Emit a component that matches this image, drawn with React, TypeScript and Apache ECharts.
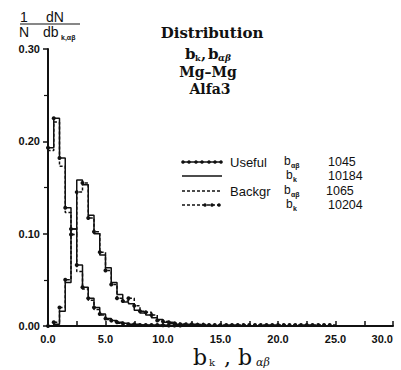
import React, { useEffect, useRef } from 'react';
import * as echarts from 'echarts';

const BIN_WIDTH = 0.5;

// bin heights (1/N dN/db), bins of width 0.5 starting at 0
const usefulBab = [0.193, 0.225, 0.182, 0.128, 0.105, 0.066, 0.042, 0.030, 0.020, 0.013,
  0.008, 0.006, 0.004, 0.003, 0.002, 0.002, 0.001, 0.001, 0.001, 0.001,
  0.0008, 0.0006, 0.0005, 0.0005];
const backgrBab = [0.19, 0.221, 0.173, 0.123, 0.099, 0.059, 0.040, 0.028, 0.018, 0.012,
  0.007, 0.005, 0.003, 0.002, 0.0015, 0.001, 0.001, 0.0005];
const usefulBk = [0.000, 0.002, 0.016, 0.047, 0.105, 0.158, 0.153, 0.120, 0.100, 0.077,
  0.063, 0.047, 0.034, 0.026, 0.024, 0.017, 0.014, 0.012, 0.009, 0.007,
  0.004, 0.003, 0.002, 0.002, 0.001, 0.001, 0.001, 0.0008, 0.0006, 0.0005];
const backgrBk = [0.000, 0.004, 0.020, 0.050, 0.099, 0.145, 0.155, 0.117, 0.102, 0.080,
  0.060, 0.045, 0.030, 0.027, 0.030, 0.022, 0.016, 0.015, 0.012, 0.006,
  0.005, 0.004, 0.003, 0.002, 0.002, 0.002, 0.0015, 0.0015, 0.001, 0.001,
  0.001, 0.001, 0.001, 0.001, 0.001, 0.001, 0.001, 0.001, 0.001, 0.001,
  0.001, 0.001, 0.001, 0.001, 0.001, 0.001, 0.001, 0.001, 0.001, 0.001];

const xTickLabels = ['0.0', '5.0', '10.0', '15.0', '20.0', '25.0', '30.0'];
const yTickLabels = ['0.00', '0.10', '0.20', '0.30'];

const legendNames = ['Useful', '', 'Backgr', ''];
const legendSubs = ['αβ', 'k', 'αβ', 'k'];
const legendCounts = ['1045', '10184', '1065', '10204'];

function stepData(vals: number[], dots: boolean) {
  const d: any[] = [{ value: [0, 0], symbol: 'none' }];
  vals.forEach((v, i) => d.push({ value: [i * BIN_WIDTH, v], symbol: dots ? 'circle' : 'none' }));
  d.push({ value: [vals.length * BIN_WIDTH, 0], symbol: 'none' });
  return d;
}

const SERIF = '"DejaVu Serif", serif';
const SANS = '"Liberation Sans", Arial, sans-serif';

export default function App() {
  const ref = useRef<HTMLDivElement>(null);
  useEffect(() => {
    const chart = echarts.init(ref.current!, null, { renderer: 'svg' });
    const black = '#111';
    const txt = (x: number, y: number, text: string, font: string, align = 'left', lh?: number) => ({
      type: 'text', x, y,
      style: { text, font, fill: black, align, verticalAlign: 'middle', lineHeight: lh },
    });
    const legendRowsY = [162, 176, 191, 205];
    const legendGraphics: any[] = [];
    legendRowsY.forEach((y, i) => {
      const dashed = i >= 2;
      legendGraphics.push({
        type: 'line', shape: { x1: 182, y1: y, x2: 222, y2: y },
        style: { stroke: black, lineWidth: 1.5, lineDash: dashed ? [3, 2] : null },
      });
      if (i === 0 || i === 3) {
        const xs = i === 0 ? [183, 189, 196, 202, 209, 215, 221] : [205, 212, 219];
        xs.forEach((x) => legendGraphics.push({ type: 'circle', shape: { cx: x, cy: y, r: 1.8 }, style: { fill: black } }));
      }
      if (legendNames[i]) legendGraphics.push(txt(230, y, legendNames[i], `13px ${SANS}`, 'left', 11));
      const bx = legendSubs[i] === 'αβ' ? 284 : 286;
      legendGraphics.push(txt(bx, y - 1, 'b', `12px ${SANS}`, 'left', 10));
      legendGraphics.push(txt(bx + 7, y + 3, legendSubs[i], `bold 7px ${SANS}`, 'left', 6));
      legendGraphics.push(txt(i === 2 ? 326 : 328, y, legendCounts[i], `12.5px ${SANS}`, 'left', 11));
    });

    chart.setOption({
      animation: false,
      backgroundColor: '#fff',
      grid: { left: 48, top: 49, width: 345, height: 277, outerBoundsMode: 'none', containLabel: false },
      xAxis: {
        type: 'value', min: 0, max: 30, interval: 2.5,
        axisLine: { lineStyle: { color: black, width: 2 } },
        axisTick: { inside: true, length: 5, lineStyle: { color: black, width: 1.5 } },
        axisLabel: {
          color: black, fontFamily: SANS, fontWeight: 'bold', fontSize: 11, margin: 7,
          alignMaxLabel: 'right',
          formatter: (v: number) => (Math.abs(v % 5) < 1e-9 ? xTickLabels[Math.round(v / 5)] : ''),
        },
        splitLine: { show: false },
      },
      yAxis: {
        type: 'value', min: 0, max: 0.3, interval: 0.1,
        axisLine: { show: true, lineStyle: { color: black, width: 2 } },
        axisTick: { show: true, length: 5, lineStyle: { color: black, width: 1.5 } },
        minorTick: { show: true, splitNumber: 2, length: 4, lineStyle: { color: black, width: 1.2 } },
        axisLabel: {
          color: black, fontFamily: SANS, fontWeight: 'bold', fontSize: 11, margin: 8,
          formatter: (v: number) => yTickLabels[Math.round(v * 10)],
        },
        splitLine: { show: false },
      },
      series: [
        { type: 'line', step: 'end', data: stepData(usefulBab, true), symbolSize: 4,
          itemStyle: { color: black }, lineStyle: { color: black, width: 1.5 } },
        { type: 'line', step: 'end', data: stepData(usefulBk, false), showSymbol: false,
          lineStyle: { color: black, width: 1.5 } },
        { type: 'line', step: 'end', data: stepData(backgrBab, false), showSymbol: false,
          lineStyle: { color: black, width: 1.5, type: [3, 2] } },
        { type: 'line', step: 'end', data: stepData(backgrBk, true), symbolSize: 4,
          itemStyle: { color: black }, lineStyle: { color: black, width: 1.5, type: [3, 2] } },
      ],
      graphic: [
        // title
        txt(212, 33, 'Distribution', `bold 15px ${SERIF}`, 'center'),
        txt(185, 54, 'b', `bold 15px ${SERIF}`),
        txt(195, 58, 'k', `bold 8px ${SERIF}`),
        txt(201, 54, ',', `bold 15px ${SERIF}`),
        txt(208, 54, 'b', `bold 15px ${SERIF}`),
        txt(218, 58, 'αβ', `bold italic 9px ${SERIF}`),
        txt(208, 72, 'Mg–Mg', `bold 14px ${SERIF}`, 'center'),
        txt(210, 89, 'Alfa3', `bold 14px ${SERIF}`, 'center'),
        // y axis title
        txt(24, 17, '1', `14px ${SANS}`, 'center'),
        txt(55, 17, 'dN', `14px ${SANS}`, 'center'),
        { type: 'line', shape: { x1: 20, y1: 24, x2: 80, y2: 24 }, style: { stroke: black, lineWidth: 1.2 } },
        txt(24, 32, 'N', `14px ${SANS}`, 'center'),
        txt(43, 32, 'db', `14px ${SANS}`),
        txt(61, 37, 'k,αβ', `bold 7px ${SANS}`),
        // x axis title
        txt(193, 357, 'b', `22px ${SERIF}`, 'left', 20),
        txt(209, 362, 'k', `10px ${SERIF}`, 'left', 10),
        txt(224, 357, ', b', `22px ${SERIF}`, 'left', 20),
        txt(256, 362, 'αβ', `italic 11px ${SERIF}`, 'left', 11),
        ...legendGraphics,
      ],
    });
    return () => chart.dispose();
  }, []);
  return <div ref={ref} style={{ position: 'fixed', left: 0, top: 0, width: 401, height: 370 }} />;
}
